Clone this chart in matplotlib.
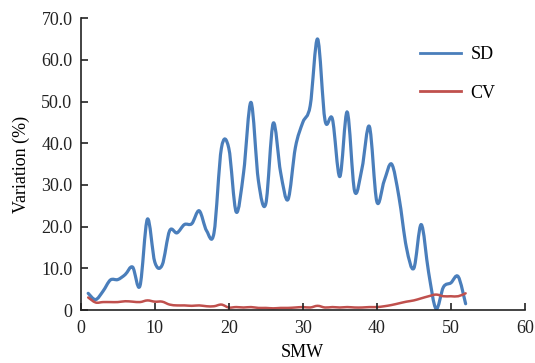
import numpy as np
import matplotlib
matplotlib.use("Agg")
import matplotlib.pyplot as plt
from matplotlib.path import Path
from matplotlib.patches import PathPatch
from matplotlib.lines import Line2D

plt.rcParams['font.family'] = ['Liberation Serif', 'DejaVu Serif']

# --------------------------
# DATA (standard meteorological weeks)
# --------------------------
weeks = np.arange(1, 53)

sd = [4.0, 2.5, 4.5, 7.2, 7.3, 8.5, 10.3, 5.8, 21.8, 11.5,
      10.8, 19.0, 18.5, 20.5, 20.7, 23.8, 19.0, 18.5, 38.8, 38.8,
      23.5, 33.0, 49.8, 31.0, 25.5, 44.8, 33.0, 26.5, 39.0, 45.0,
      49.0, 65.0, 45.5, 45.8, 32.0, 47.5, 28.5, 34.0, 44.0, 26.0,
      31.0, 35.0, 27.0, 15.0, 10.0, 20.5, 9.0, 0.3, 5.5, 6.5,
      8.0, 1.5]

cv = [3.0, 1.8, 1.9, 1.9, 1.9, 2.1, 2.0, 1.9, 2.3, 2.0,
      2.0, 1.3, 1.1, 1.1, 1.0, 1.1, 0.9, 0.9, 1.3, 0.6,
      0.7, 0.6, 0.7, 0.5, 0.5, 0.4, 0.5, 0.5, 0.6, 0.7,
      0.6, 1.0, 0.6, 0.7, 0.6, 0.7, 0.6, 0.6, 0.7, 0.7,
      0.9, 1.2, 1.6, 2.0, 2.3, 2.8, 3.3, 3.7, 3.3, 3.3,
      3.3, 4.0]

series = [('SD', sd, '#4a7ebb', 2.3), ('CV', cv, '#c0504d', 1.8)]


# smoothed line like a spreadsheet "smooth line" (bezier through the points)
def smooth_path(x, y):
    p = np.column_stack([x, y]).astype(float)
    n = len(p)
    verts = [p[0]]
    codes = [Path.MOVETO]
    for i in range(n - 1):
        p0 = p[i - 1] if i > 0 else p[i]
        p3 = p[i + 2] if i + 2 < n else p[i + 1]
        c1 = p[i] + (p[i + 1] - p0) / 6.0
        c2 = p[i + 1] - (p3 - p[i]) / 6.0
        verts += [c1, c2, p[i + 1]]
        codes += [Path.CURVE4] * 3
    return Path(verts, codes)


fig = plt.figure(figsize=(5.35, 3.63), dpi=100)
ax = fig.add_axes([0.151, 0.146, 0.830, 0.804])

handles = []
for name, vals, col, lw in series:
    patch = PathPatch(smooth_path(weeks, vals), facecolor='none',
                      edgecolor=col, lw=lw, capstyle='round', joinstyle='round')
    ax.add_patch(patch)
    handles.append(Line2D([], [], color=col, lw=2.0, label=name))

# --------------------------
# STYLE
# --------------------------
ax.set_xlim(0, 60)
ax.set_ylim(0, 70)
ax.set_xticks(np.arange(0, 61, 10))
ax.set_yticks(np.arange(0, 71, 10))
ax.set_yticklabels(['0'] + [f'{v:.1f}' for v in range(10, 71, 10)])

ax.spines['top'].set_visible(False)
ax.spines['right'].set_visible(False)
for s in ['left', 'bottom']:
    ax.spines[s].set_linewidth(1.2)
    ax.spines[s].set_color('#222222')

ax.tick_params(direction='in', length=5, width=1.2, labelsize=13,
               colors='#222222')
ax.tick_params(axis='x', pad=7)
ax.tick_params(axis='y', pad=6)
ax.set_xlabel('SMW', fontsize=13, labelpad=5)
ax.set_ylabel('Variation (%)', fontsize=13, labelpad=8)

ax.legend(handles=handles, loc='upper right', bbox_to_anchor=(0.97, 0.96),
          frameon=False, fontsize=13, handlelength=2.3, labelspacing=1.2,
          handletextpad=0.5)

fig.savefig('out.png', dpi=100)
